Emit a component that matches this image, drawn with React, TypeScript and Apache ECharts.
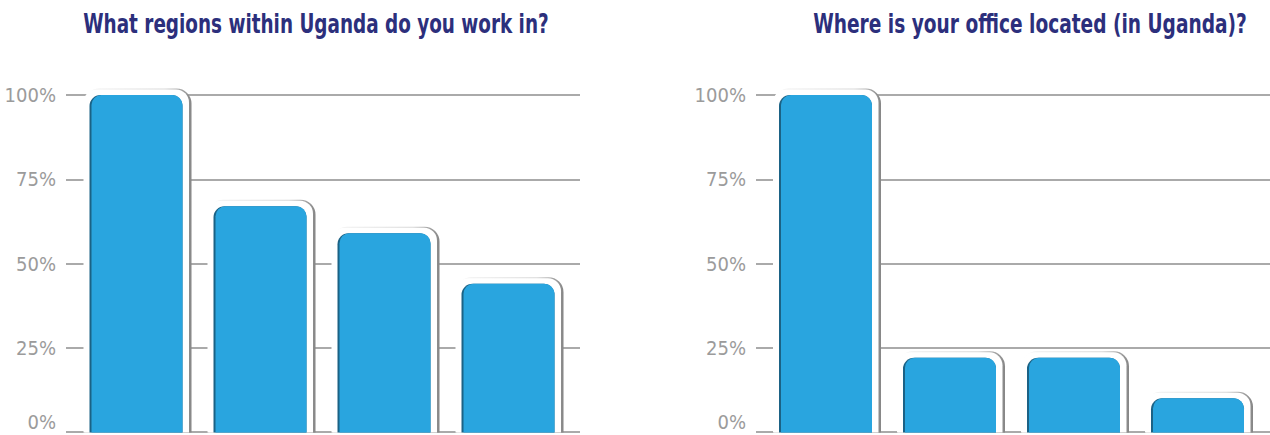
import React, { useEffect, useRef } from 'react';
import * as echarts from 'echarts';

const leftTitle = 'What regions within Uganda do you work in?';
const rightTitle = 'Where is your office located (in Uganda)?';
const leftCategories = ['Central', 'Eastern', 'Northern', 'Western'];
const leftValues = [100, 67, 59, 44];
const rightCategories = ['Central', 'Eastern', 'Northern', 'Western'];
const rightValues = [100, 22, 22, 10];
const yMin = 0;
const yMax = 100;
const yInterval = 25;

const TITLE_FONT = "'Liberation Sans Narrow', 'DejaVu Sans Condensed', 'Roboto', sans-serif";
const LABEL_FONT = "'Liberation Sans Narrow', 'DejaVu Sans Condensed', 'Roboto', sans-serif";

function measure(text: string, font: string): number {
  const c = document.createElement('canvas').getContext('2d');
  if (!c) return 0;
  c.font = font;
  return c.measureText(text).width;
}

function renderBar(params: any, api: any) {
  const i = api.value(0);
  const v = api.value(1);
  const top = api.coord([i, v]);
  const base = api.coord([i, 0]);
  const band = api.size([1, 0])[0];
  const bw = band * 0.75;
  const x0 = top[0] - bw / 2;
  const y0 = top[1];
  const y1 = base[1] + 0.5;
  return {
    type: 'group',
    children: [
      {
        type: 'rect',
        shape: { x: x0 - 5, y: y0 - 6.5, width: bw + 14, height: y1 - y0 + 6.5, r: [15, 15, 0, 0] },
        style: {
          fill: new echarts.graphic.LinearGradient(0, 0, 1, 0, [
            { offset: 0, color: '#f4f4f4' },
            { offset: 0.75, color: '#d8d8d8' },
            { offset: 1, color: '#868686' },
          ]),
        },
      },
      {
        type: 'rect',
        shape: { x: x0 - 6, y: y0 - 5.5, width: bw + 12.5, height: y1 - y0 + 5.5, r: [13, 13, 0, 0] },
        style: { fill: '#ffffff' },
      },
      {
        type: 'rect',
        shape: { x: x0, y: y0, width: bw, height: y1 - y0, r: [11, 11, 0, 0] },
        style: { fill: '#1b6285' },
      },
      {
        type: 'rect',
        shape: { x: x0 + 2, y: y0, width: bw - 2, height: y1 - y0, r: [10, 10, 0, 0] },
        style: { fill: '#29a5df' },
      },
    ],
  };
}

export default function App() {
  const ref = useRef<HTMLDivElement>(null);
  useEffect(() => {
    if (!ref.current) return;
    const chart = echarts.init(ref.current, undefined, { renderer: 'svg' });
    const titleFontStr = `bold 26px ${TITLE_FONT}`;
    const lw = measure(leftTitle, titleFontStr) || 466;
    const rw = measure(rightTitle, titleFontStr) || 434;
    const lsx = 466 / lw;
    const rsx = 434 / rw;

    const gridTop = 95;
    const gridHeight = 337;

    const lineAxis = (gridIndex: number) => ({
      type: 'value',
      gridIndex,
      min: yMin,
      max: yMax,
      interval: yInterval,
      axisLine: { show: false },
      axisTick: { show: false },
      axisLabel: {
        formatter: '{value}%',
        color: '#9b9b9b',
        fontSize: 20,
        fontFamily: LABEL_FONT,
        margin: 10,
        verticalAlignMinLabel: 'bottom',
      },
      splitLine: { lineStyle: { color: '#8e8e8e', width: 1.6 } },
    });
    const barY = (gridIndex: number) => ({
      type: 'value',
      gridIndex,
      min: yMin,
      max: yMax,
      show: false,
      splitLine: { show: false },
    });

    chart.setOption({
      animation: false,
      backgroundColor: '#ffffff',
      grid: [
        { left: 74, width: 496, top: gridTop, height: gridHeight },
        { left: 66, width: 514, top: gridTop, height: gridHeight },
        { left: 763.5, width: 496, top: gridTop, height: gridHeight },
        { left: 756, width: 514, top: gridTop, height: gridHeight },
      ],
      xAxis: [
        { type: 'category', gridIndex: 0, data: leftCategories, show: false },
        { type: 'value', gridIndex: 1, min: 0, max: 1, show: false },
        { type: 'category', gridIndex: 2, data: rightCategories, show: false },
        { type: 'value', gridIndex: 3, min: 0, max: 1, show: false },
      ],
      yAxis: [barY(0), lineAxis(1), barY(2), lineAxis(3)],
      graphic: [
        {
          type: 'text',
          x: 316,
          y: 24,
          scaleX: lsx,
          style: {
            text: leftTitle,
            fill: '#2c2f7c',
            font: titleFontStr,
            textAlign: 'center',
            textVerticalAlign: 'middle',
          },
        },
        {
          type: 'text',
          x: 1030,
          y: 24,
          scaleX: rsx,
          style: {
            text: rightTitle,
            fill: '#2c2f7c',
            font: titleFontStr,
            textAlign: 'center',
            textVerticalAlign: 'middle',
          },
        },
      ],
      series: [
        {
          type: 'custom',
          xAxisIndex: 0,
          yAxisIndex: 0,
          renderItem: renderBar,
          data: leftValues.map((v, i) => [i, v]),
          clip: false,
        },
        {
          type: 'custom',
          xAxisIndex: 2,
          yAxisIndex: 2,
          renderItem: renderBar,
          data: rightValues.map((v, i) => [i, v]),
          clip: false,
        },
      ],
    });
    return () => chart.dispose();
  }, []);
  return (
    <div
      ref={ref}
      style={{ position: 'absolute', left: 0, top: 0, width: 1270, height: 435, background: '#fff' }}
    />
  );
}
